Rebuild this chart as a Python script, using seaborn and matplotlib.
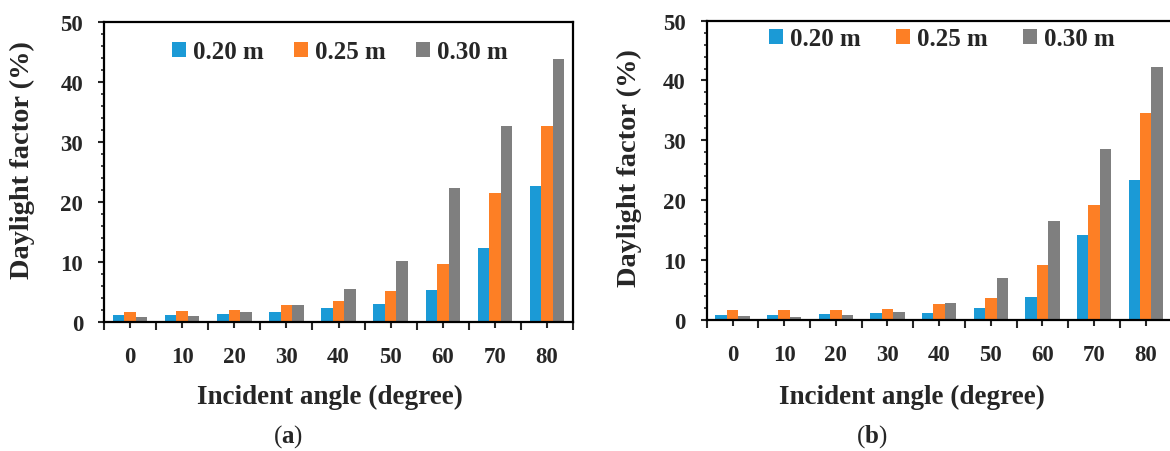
import matplotlib
matplotlib.use("Agg")
import matplotlib.pyplot as plt
import seaborn as sns
import pandas as pd
import numpy as np
from matplotlib.ticker import FixedLocator, MultipleLocator

angles = ["0", "10", "20", "30", "40", "50", "60", "70", "80"]
series_names = ["0.20 m", "0.25 m", "0.30 m"]

# Panel (a)
a_020 = [1.1, 1.1, 1.3, 1.55, 2.2, 3.0, 5.3, 12.3, 22.6]
a_025 = [1.55, 1.7, 2.0, 2.7, 3.4, 5.2, 9.6, 21.4, 32.7]
a_030 = [0.7, 0.9, 1.55, 2.8, 5.5, 10.2, 22.3, 32.7, 43.9]

# Panel (b)
b_020 = [0.85, 0.85, 0.95, 1.15, 1.15, 1.9, 3.85, 14.2, 23.4]
b_025 = [1.55, 1.55, 1.55, 1.85, 2.55, 3.65, 9.1, 19.2, 34.5]
b_030 = [0.6, 0.45, 0.85, 1.3, 2.75, 6.9, 16.5, 28.5, 42.3]

colors = ["#1B9AD6", "#FD7F25", "#7F7F7F"]

sns.set_style("ticks")
plt.rcParams["font.family"] = ["Liberation Serif", "DejaVu Serif"]
plt.rcParams["font.weight"] = "bold"
plt.rcParams["mathtext.fontset"] = "custom"
plt.rcParams["mathtext.rm"] = "Liberation Serif"
plt.rcParams["mathtext.bf"] = "Liberation Serif:bold"


def make_df(s1, s2, s3):
    rows = []
    for name, vals in zip(series_names, [s1, s2, s3]):
        for ang, v in zip(angles, vals):
            rows.append({"angle": ang, "series": name, "value": v})
    return pd.DataFrame(rows)


fig = plt.figure(figsize=(11.7, 4.52), dpi=100)
ax1 = fig.add_axes([0.0889, 0.2861, 0.4009, 0.6631])
ax2 = fig.add_axes([0.6040, 0.2905, 0.3974, 0.6615])

panels = [
    (ax1, make_df(a_020, a_025, a_030), (0.503, 0.90), (0.482, -0.248), (-0.173, 0.543), "a", 288, 1.2),
    (ax2, make_df(b_020, b_025, b_030), (0.506, 0.939), (0.4415, -0.255), (-0.167, 0.511), "b", 872, 1.4),
]

for ax, df, leg_pos, xl_pos, yl_pos, tag, tag_x, colsp in panels:
    sns.barplot(data=df, x="angle", y="value", hue="series", order=angles,
                hue_order=series_names, palette=colors, width=0.66,
                saturation=1, linewidth=0, ax=ax)
    ax.set_xlim(-0.5, 8.5)
    ax.set_ylim(0, 50)
    ax.yaxis.set_major_locator(MultipleLocator(10))
    ax.yaxis.set_minor_locator(MultipleLocator(2))
    ax.xaxis.set_minor_locator(FixedLocator(np.arange(-0.5, 9.0, 1.0)))
    for sp in ax.spines.values():
        sp.set_visible(True)
        sp.set_linewidth(1.6)
        sp.set_color("black")
    ax.tick_params(axis="x", which="major", length=4, width=1.5, pad=13.5,
                   labelsize=16.5, direction="out")
    ax.tick_params(axis="x", which="minor", length=5.5, width=1.5, direction="out")
    ax.tick_params(axis="y", which="major", length=4, width=1.5, pad=11,
                   labelsize=16.5, direction="out")
    ax.tick_params(axis="y", which="minor", length=2.5, width=1.2, direction="out")
    for lab in ax.get_xticklabels() + ax.get_yticklabels():
        lab.set_fontweight("bold")

    ax.set_xlabel("Incident angle (degree)", fontsize=19.5, fontweight="bold")
    ax.xaxis.set_label_coords(*xl_pos)
    ax.xaxis.label.set_va("center")
    ax.set_ylabel("Daylight factor (%)", fontsize=20.5, fontweight="bold")
    ax.yaxis.set_label_coords(*yl_pos)
    ax.yaxis.label.set_va("center")

    handles, labels = ax.get_legend_handles_labels()
    ax.legend(handles, labels, loc="center", bbox_to_anchor=leg_pos, ncol=3,
              frameon=False, handlelength=0.55, handleheight=0.55,
              handletextpad=0.3, columnspacing=colsp,
              prop={"weight": "bold", "size": 18})

    fig.text(tag_x / 1170, 1 - 437 / 452, r"($\mathbf{" + tag + r"}$)",
             ha="center", va="center", fontsize=18, fontweight="normal")

fig.savefig("out.png", dpi=100)
